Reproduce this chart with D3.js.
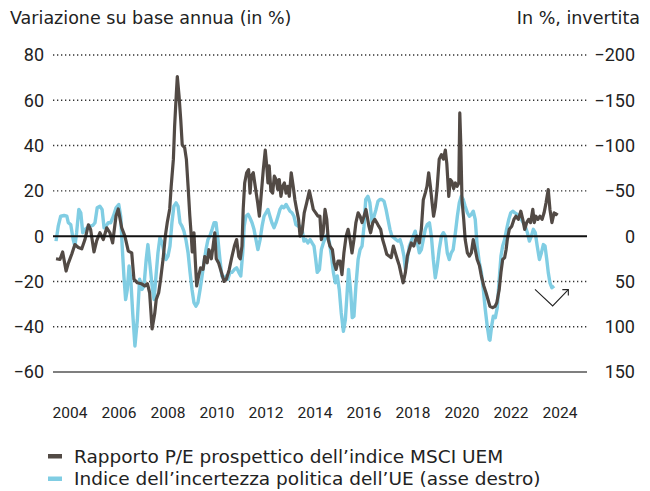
<!DOCTYPE html>
<html lang="it">
<head>
<meta charset="utf-8">
<script src="https://d3js.org/d3.v7.min.js"></script>
<style>
  body { margin: 0; background: #fff; }
  svg { display: block; }
  text { font-family: Roboto, "Liberation Sans", sans-serif; fill: #222; }
  .words { font-family: "DejaVu Sans", sans-serif; }
  .grid line { stroke: #333; stroke-width: 1.4px; stroke-dasharray: 1.3 2.7; }
</style>
</head>
<body>
<svg id="chart"></svg>
<script>
// tick labels
var yearTicks = [2004, 2006, 2008, 2010, 2012, 2014, 2016, 2018, 2020, 2022, 2024];
var leftTicks = [-60, -40, -20, 0, 20, 40, 60, 80];
var rightTicks = [150, 100, 50, 0, -50, -100, -150, -200];

// Rapporto P/E prospettico MSCI UEM, var. a/a in % [anno, valore]
var peSeries = [
  [2003.43,-10],[2003.59,-10.3],[2003.70,-7],[2003.84,-15.4],[2003.93,-12],[2004.07,-8],[2004.20,-3.7],
  [2004.34,-5],[2004.48,-5.6],[2004.61,-1.5],[2004.75,5],[2004.84,3],[2004.98,-7],[2005.09,-2],
  [2005.22,1.5],[2005.36,-1.5],[2005.50,3.7],[2005.63,1.5],[2005.74,-3],[2005.88,9],[2005.97,12],
  [2006.11,3.7],[2006.24,0],[2006.38,-6.6],[2006.52,-7.4],[2006.61,-19],[2006.75,-20.6],[2006.91,-21],
  [2007.05,-22],[2007.16,-21],[2007.25,-25],[2007.35,-41],[2007.46,-34],[2007.52,-28],[2007.62,-25],
  [2007.70,-19],[2007.80,-10],[2007.89,0],[2007.97,6],[2008.07,12],[2008.13,22],[2008.22,34],
  [2008.27,48.5],[2008.34,63],[2008.38,70.5],[2008.45,62],[2008.52,51.5],[2008.58,40.4],[2008.68,39],
  [2008.75,34],[2008.82,22],[2008.89,9],[2008.95,0],[2008.99,-7],[2009.06,1.5],[2009.11,-10],
  [2009.17,-22],[2009.25,-17.6],[2009.33,-14],[2009.43,-14.7],[2009.50,-9],[2009.60,-11.8],[2009.67,-6],
  [2009.77,-10],[2009.84,-4.4],[2009.91,1.5],[2009.97,-10],[2010.07,-12],[2010.18,-16],[2010.29,-20],
  [2010.38,-19],[2010.50,-14.7],[2010.61,-9],[2010.71,-4.4],[2010.80,-1.5],[2010.89,-9],[2010.95,-10],
  [2011.02,-4.4],[2011.07,12],[2011.13,23.5],[2011.21,28],[2011.29,29.4],[2011.35,19],[2011.40,26.5],
  [2011.48,28],[2011.56,22],[2011.66,14.7],[2011.73,8.8],[2011.81,19],[2011.89,29.4],[2011.97,38],
  [2012.03,31],[2012.08,23.5],[2012.13,31],[2012.20,20],[2012.27,19],[2012.34,26.5],[2012.41,25],
  [2012.48,20.6],[2012.54,25],[2012.61,17.6],[2012.68,22],[2012.75,23.5],[2012.82,19],[2012.89,22],
  [2012.95,17.6],[2013.03,28],[2013.11,22],[2013.18,16],[2013.25,11.8],[2013.33,7.4],[2013.39,0],
  [2013.47,1.5],[2013.56,10.3],[2013.66,14.7],[2013.77,20],[2013.85,16],[2013.93,11.8],[2014.03,10.3],
  [2014.12,8.8],[2014.20,8.8],[2014.26,-1.5],[2014.33,1.5],[2014.41,11.8],[2014.48,7.4],[2014.54,-1.5],
  [2014.61,-4.4],[2014.71,-6],[2014.78,-11.8],[2014.86,-14.7],[2014.94,-11],[2015.02,-11],[2015.10,-17],
  [2015.18,-7.4],[2015.27,0],[2015.35,3],[2015.43,-1.5],[2015.51,-7.4],[2015.59,-1.5],[2015.67,6],
  [2015.76,10.3],[2015.84,8.8],[2015.92,6],[2016.00,8.8],[2016.08,11.8],[2016.13,8.8],[2016.20,4.4],
  [2016.27,1.5],[2016.36,6],[2016.44,7.4],[2016.52,6],[2016.60,4.4],[2016.68,3],[2016.76,-1.5],
  [2016.84,-4.4],[2016.93,-8],[2017.02,-8.8],[2017.11,-9.5],[2017.20,-4.4],[2017.28,-7.4],[2017.36,-10.3],
  [2017.44,-13],[2017.52,-17],[2017.60,-20.6],[2017.69,-16],[2017.77,-8.8],[2017.85,-5.9],[2017.93,-3],
  [2018.03,-4.4],[2018.09,-2.2],[2018.16,0],[2018.26,-3],[2018.34,3],[2018.42,16],[2018.50,19],
  [2018.57,22],[2018.64,28],[2018.71,22],[2018.78,14.7],[2018.84,8.8],[2018.91,13],[2018.99,22],
  [2019.07,34],[2019.16,36],[2019.24,34],[2019.32,38],[2019.38,32],[2019.46,17.6],[2019.52,25],
  [2019.59,24],[2019.66,21],[2019.73,23.5],[2019.80,22],[2019.87,23.5],[2019.91,54.4],[2019.95,41],
  [2020.00,16],[2020.07,7.4],[2020.13,-1.5],[2020.22,-7.4],[2020.30,-8.8],[2020.38,-7.4],[2020.46,-1.5],
  [2020.54,-5.9],[2020.62,-10.3],[2020.71,-13],[2020.79,-17.6],[2020.89,-22],[2020.98,-25],[2021.06,-28],
  [2021.14,-31],[2021.25,-31.6],[2021.35,-31],[2021.42,-29.4],[2021.52,-23.5],[2021.59,-16],[2021.66,-10.3],
  [2021.74,-9.5],[2021.80,-6],[2021.85,-1.5],[2021.93,3],[2022.03,4.4],[2022.12,7.4],[2022.20,8.8],
  [2022.30,7.4],[2022.40,11],[2022.48,7.4],[2022.56,3],[2022.64,6],[2022.72,7.4],[2022.80,6],
  [2022.89,11.8],[2022.95,6],[2023.02,8.8],[2023.10,7.4],[2023.18,8.8],[2023.27,7.4],[2023.35,10.3],
  [2023.43,14.7],[2023.52,20.6],[2023.59,11.8],[2023.67,6],[2023.76,10.3],[2023.84,9.5],[2023.89,10.3]
];

// Indice dell'incertezza politica UE, in % (asse destro, invertito) [anno, valore]
var epuSeries = [
  [2003.43,5.5],[2003.52,-11],[2003.62,-22],[2003.76,-22.8],[2003.87,-22],[2003.93,-14.8],[2004.03,-12.8],
  [2004.13,3.8],[2004.20,11],[2004.27,-3.8],[2004.36,-29.5],[2004.44,-25.8],[2004.52,-3.8],[2004.61,-7.5],
  [2004.71,-9.3],[2004.82,-11],[2004.93,-11.8],[2005.02,-14.8],[2005.11,-31.3],[2005.22,-33],[2005.31,-29.5],
  [2005.39,-9.3],[2005.47,-11],[2005.56,-14.8],[2005.66,-14.8],[2005.77,-22],[2005.88,-31.3],[2005.99,-35],
  [2006.07,-22],[2006.13,11],[2006.20,44],[2006.27,70],[2006.34,58.8],[2006.41,33],[2006.48,47.5],
  [2006.56,85],[2006.65,121.3],[2006.75,92],[2006.84,47.5],[2006.94,58.8],[2007.02,55],[2007.11,25.8],
  [2007.18,9.3],[2007.27,33],[2007.35,55],[2007.43,70],[2007.51,44],[2007.59,18.5],[2007.67,1.8],
  [2007.76,7.3],[2007.84,18.5],[2007.92,25.8],[2008.00,22],[2008.08,11],[2008.16,-14.8],[2008.24,-33],
  [2008.33,-36.8],[2008.41,-33],[2008.49,-14.8],[2008.57,-11],[2008.65,-5.5],[2008.73,3.8],[2008.82,18.5],
  [2008.90,40],[2008.98,58.8],[2009.06,73.5],[2009.14,77.3],[2009.22,73.5],[2009.31,58.8],[2009.39,44],
  [2009.47,29.5],[2009.55,14.8],[2009.63,3.8],[2009.71,0],[2009.80,-7.5],[2009.88,-14.8],[2009.96,-14.8],
  [2010.04,3.8],[2010.12,25.8],[2010.20,44],[2010.29,47.5],[2010.37,44],[2010.44,47.5],[2010.53,40],
  [2010.61,40],[2010.71,36.8],[2010.80,35],[2010.89,40],[2010.97,44],[2011.05,18.5],[2011.11,-11],
  [2011.18,-22],[2011.27,-24],[2011.35,-20],[2011.43,-14.8],[2011.51,-7.5],[2011.59,3.8],[2011.67,14.8],
  [2011.76,3.8],[2011.84,-11],[2011.92,-22],[2012.00,-25.8],[2012.08,-29.5],[2012.16,-22],[2012.24,-14.8],
  [2012.33,-9.3],[2012.41,-14.8],[2012.49,-22],[2012.57,-29.5],[2012.65,-33],[2012.73,-31.3],[2012.82,-35],
  [2012.90,-31.3],[2012.98,-27.5],[2013.06,-25.8],[2013.14,-22],[2013.22,-12.8],[2013.31,-11],[2013.39,-11],
  [2013.47,-7.5],[2013.55,5.5],[2013.63,3.8],[2013.71,7.5],[2013.80,3.8],[2013.88,7.5],[2013.96,11],
  [2014.03,25.8],[2014.09,40],[2014.18,36.8],[2014.26,14.8],[2014.34,7.5],[2014.42,1.8],[2014.50,-1.8],
  [2014.58,5.5],[2014.67,22],[2014.75,40],[2014.83,51.5],[2014.91,44],[2014.99,58.8],[2015.07,84.5],
  [2015.16,105],[2015.24,92],[2015.32,58.8],[2015.37,36.8],[2015.46,62.5],[2015.52,90],[2015.59,88.3],
  [2015.67,55],[2015.76,25.8],[2015.84,14.8],[2015.92,11],[2016.00,-11],[2016.07,-40.5],[2016.16,-44],
  [2016.24,-36.8],[2016.33,-14.8],[2016.41,-22],[2016.49,-29.5],[2016.57,-38.5],[2016.65,-40.5],[2016.73,-40.5],
  [2016.82,-38.5],[2016.90,-29.5],[2016.98,-18.5],[2017.06,-7.5],[2017.14,0],[2017.22,1.8],[2017.31,3.8],
  [2017.39,5.5],[2017.47,3.8],[2017.55,11],[2017.63,22],[2017.69,36.8],[2017.77,25.8],[2017.85,11],
  [2017.93,5.5],[2018.01,0],[2018.09,-5.5],[2018.18,7.5],[2018.26,18.5],[2018.34,14.8],[2018.42,3.8],
  [2018.50,-7.5],[2018.58,-12.8],[2018.67,-14.8],[2018.75,0],[2018.83,25.8],[2018.91,46],[2018.99,33],
  [2019.07,14.8],[2019.16,0],[2019.24,-3.8],[2019.32,0],[2019.40,18.5],[2019.48,25.8],[2019.56,18.5],
  [2019.64,14.8],[2019.73,-3.8],[2019.81,-22],[2019.89,-36.8],[2019.97,-44],[2020.05,-40.5],[2020.13,-33],
  [2020.22,-25.8],[2020.30,-22],[2020.38,-24],[2020.46,-27.5],[2020.54,-18.5],[2020.62,11],[2020.71,29.5],
  [2020.79,40],[2020.87,58.8],[2020.95,81],[2021.03,99.3],[2021.11,114],[2021.14,115],[2021.21,99.3],
  [2021.28,88.3],[2021.36,90],[2021.44,79],[2021.52,47.5],[2021.59,22],[2021.66,11],[2021.74,3.8],
  [2021.82,-7.5],[2021.91,-18.5],[2021.99,-25.8],[2022.07,-27.5],[2022.16,-25.8],[2022.26,-24],[2022.34,-22],
  [2022.42,-18.5],[2022.50,-14.8],[2022.58,-11],[2022.67,-3.8],[2022.75,5.5],[2022.83,0],[2022.91,-7.5],
  [2022.99,-3.8],[2023.07,11],[2023.16,25.8],[2023.24,18.5],[2023.32,9.3],[2023.39,11],[2023.46,25.8],
  [2023.52,40],[2023.59,51.5],[2023.67,57],[2023.76,55]
];

// freccia di annotazione (asse sinistro)
var arrowPts = [[2022.98, -23.5], [2023.70, -30.8], [2024.34, -23.6]];

var legendItems = [
  { label: "Rapporto P/E prospettico dell\u2019indice MSCI UEM", color: "#524a45" },
  { label: "Indice dell\u2019incertezza politica dell\u2019UE (asse destro)", color: "#80cde3" }
];

var width = 650, height = 491;
var left = 53, right = 587;

var svg = d3.select("#chart").attr("width", width).attr("height", height);

var x = d3.scaleLinear().domain([2004, 2024]).range([70, 560]);
var yL = d3.scaleLinear().domain([-60, 80]).range([372, 55]);
var yR = d3.scaleLinear().domain([150, -200]).range([372, 55]);

var fmt = d3.format("d");

// titoli degli assi
svg.append("text").attr("class", "words").attr("x", 10).attr("y", 24)
  .style("font-size", "17.5px").text("Variazione su base annua (in %)");
svg.append("text").attr("class", "words").attr("x", 640).attr("y", 24).attr("text-anchor", "end")
  .style("font-size", "17.5px").text("In %, invertita");

// griglia
var grid = svg.append("g").attr("class", "grid");
grid.selectAll("line")
  .data(leftTicks.filter(function (d) { return d !== 0 && d !== -60; }))
  .enter().append("line")
  .attr("x1", left).attr("x2", right)
  .attr("y1", function (d) { return yL(d); })
  .attr("y2", function (d) { return yL(d); });

svg.append("line")
  .attr("x1", left).attr("x2", right)
  .attr("y1", yL(-60)).attr("y2", yL(-60))
  .attr("stroke", "#555").attr("stroke-width", 1.5);

// etichette asse sinistro
svg.append("g").selectAll("text")
  .data(leftTicks).enter().append("text")
  .attr("x", 44).attr("y", function (d) { return yL(d); })
  .attr("dy", "0.36em").attr("text-anchor", "end")
  .style("font-size", "18px")
  .text(function (d) { return fmt(d); });

// etichette asse destro
svg.append("g").selectAll("text")
  .data(rightTicks).enter().append("text")
  .attr("x", 635).attr("y", function (d) { return yR(d); })
  .attr("dy", "0.36em").attr("text-anchor", "end")
  .style("font-size", "18px")
  .text(function (d) { return fmt(d); });

// etichette anni
svg.append("g").selectAll("text")
  .data(yearTicks).enter().append("text")
  .attr("x", function (d) { return x(d); }).attr("y", 418)
  .attr("text-anchor", "middle")
  .style("font-size", "15.5px")
  .text(function (d) { return d; });

// linee
var lineL = d3.line()
  .x(function (d) { return x(d[0]); })
  .y(function (d) { return yL(d[1]); });
var lineR = d3.line()
  .x(function (d) { return x(d[0]); })
  .y(function (d) { return yR(d[1]); });

svg.append("path").datum(epuSeries)
  .attr("fill", "none").attr("stroke", legendItems[1].color)
  .attr("stroke-width", 3.4).attr("stroke-linejoin", "round")
  .attr("d", lineR);

svg.append("path").datum(peSeries)
  .attr("fill", "none").attr("stroke", legendItems[0].color)
  .attr("stroke-width", 3.2).attr("stroke-linejoin", "round")
  .attr("d", lineL);

// linea dello zero
svg.append("line")
  .attr("x1", left).attr("x2", right)
  .attr("y1", yL(0)).attr("y2", yL(0))
  .attr("stroke", "#111").attr("stroke-width", 2);

// freccia
svg.append("path").datum(arrowPts)
  .attr("fill", "none").attr("stroke", "#222").attr("stroke-width", 1.1)
  .attr("d", lineL);
var tip = arrowPts[arrowPts.length - 1];
var tx = x(tip[0]), ty = yL(tip[1]);
svg.append("path")
  .attr("fill", "none").attr("stroke", "#222").attr("stroke-width", 1.1)
  .attr("d", "M" + (tx - 6) + "," + ty + "L" + tx + "," + ty + "L" + tx + "," + (ty + 6));

// legenda
var leg = svg.append("g").selectAll("g")
  .data(legendItems).enter().append("g")
  .attr("transform", function (d, i) { return "translate(0," + (456 + i * 22.5) + ")"; });
leg.append("rect").attr("x", 48).attr("y", -2).attr("width", 14).attr("height", 4.5)
  .attr("fill", function (d) { return d.color; });
leg.append("text").attr("class", "words").attr("x", 74).attr("y", 0).attr("dy", "0.36em")
  .style("font-size", "18.5px")
  .text(function (d) { return d.label; });
</script>
</body>
</html>
